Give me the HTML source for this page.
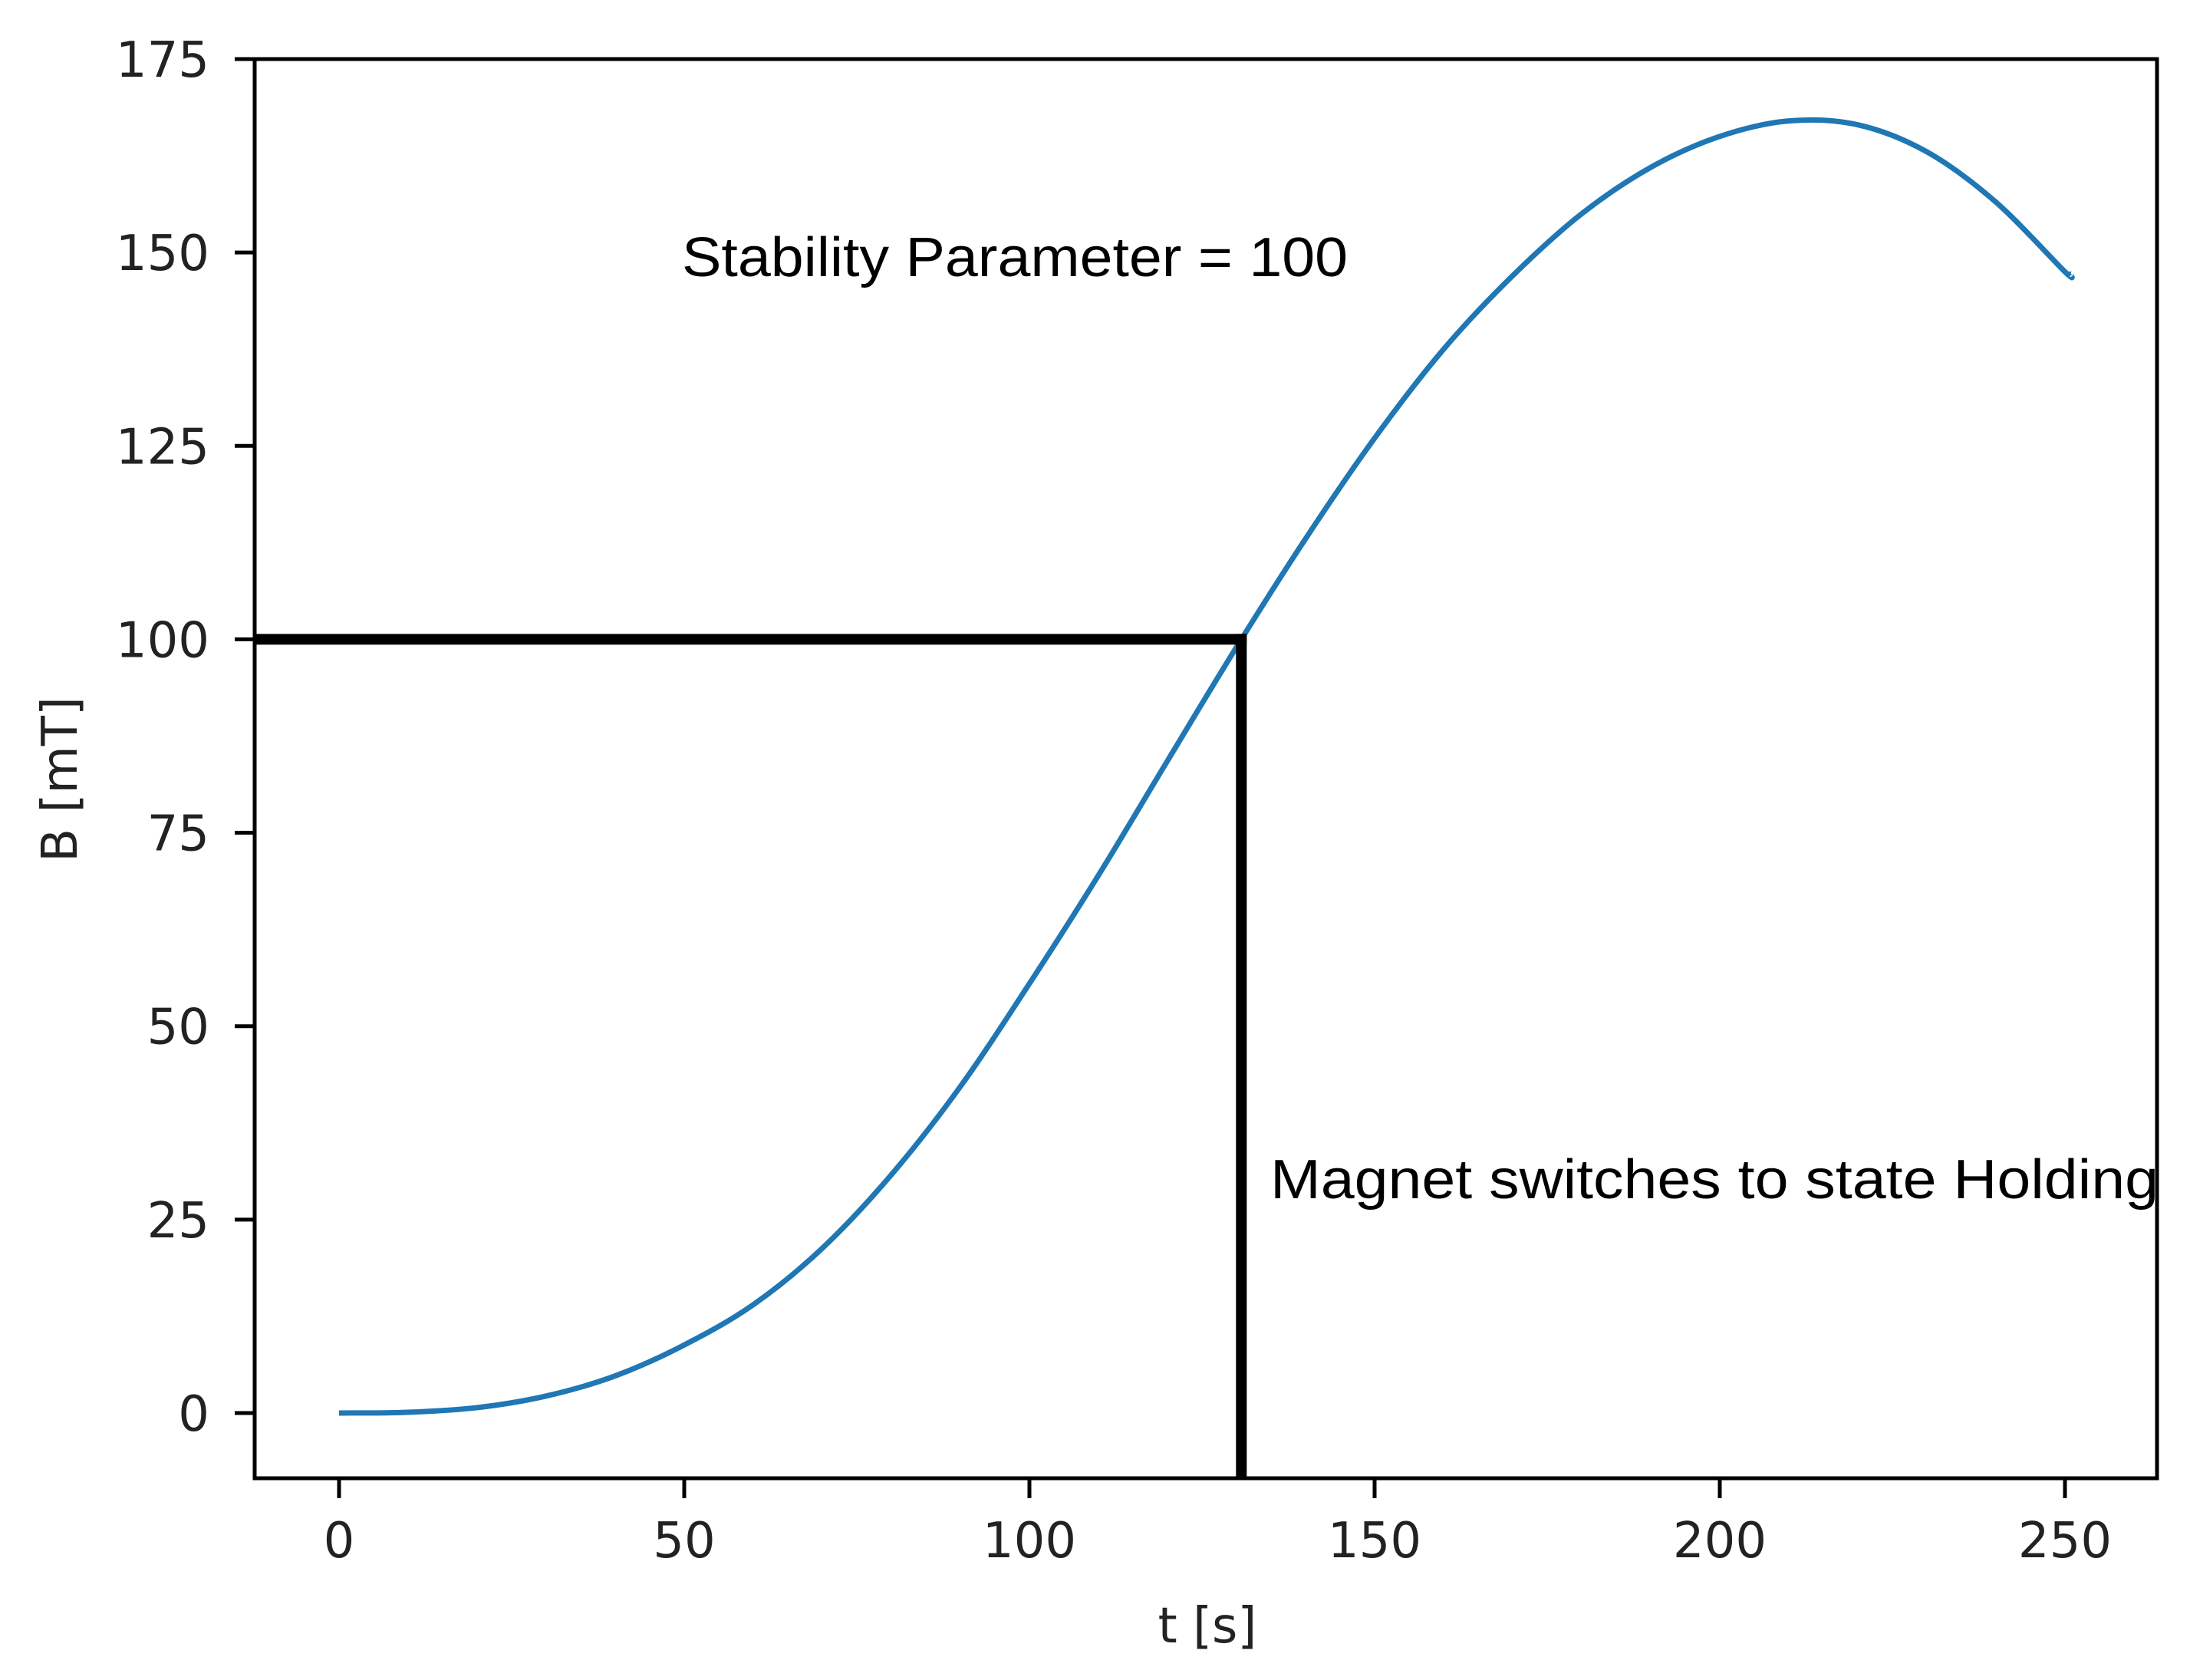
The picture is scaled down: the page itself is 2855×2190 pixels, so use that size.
<!DOCTYPE html>
<html><head><meta charset="utf-8"><style>
html,body{margin:0;padding:0;background:#fff;}
svg{display:block;}
</style></head><body>
<svg id="chart" width="2855" height="2190" viewBox="0 0 2855 2190" xmlns="http://www.w3.org/2000/svg">
<rect x="0" y="0" width="2855" height="2190" fill="#fff"/>
<g id="ticks"></g>
<g id="marks"></g>
<rect x="332" y="77" width="2480" height="1850" fill="none" stroke="#000" stroke-width="5"/>
<text x="1574" y="2141" font-family="DejaVu Sans, sans-serif" font-size="64" text-anchor="middle" fill="#222">t [s]</text>
<text transform="translate(100,1016) rotate(-90)" font-family="DejaVu Sans, sans-serif" font-size="64" text-anchor="middle" fill="#222">B [mT]</text>
<text x="889" y="360" font-family="Liberation Sans, sans-serif" font-size="72" textLength="868" lengthAdjust="spacingAndGlyphs" fill="#000">Stability Parameter = 100</text>
<text x="1656" y="1562" font-family="Liberation Sans, sans-serif" font-size="72" textLength="1158" lengthAdjust="spacingAndGlyphs" fill="#000">Magnet switches to state Holding</text>
</svg>
<script>
const tValues = [0,10,20,30,40,50,60,70,80,90,100,110,120,130,140,150,160,170,180,190,200,210,220,230,240,250];
const bValues = [0,0.1,0.7,2.2,4.8,8.8,14,21.3,30.8,42.2,55.5,69.5,84.3,99,113,126,137.5,147,155,161,165,167,166.5,163,156.5,147.5];
const endPoint = [250.8, 147.2];
const xTicks = [0,50,100,150,200,250];
const yTicks = [0,25,50,75,100,125,150,175];
const switchT = 130.7;
const switchB = 100;

const NS = 'http://www.w3.org/2000/svg';
function xs(v){ return 442 + v * 9.0; }
function ys(v){ return 1842 - v * 10.086; }
const ticksG = document.getElementById('ticks');
const marksG = document.getElementById('marks');
function mk(tag, attrs, parent){
  const el = document.createElementNS(NS, tag);
  for (const k in attrs) el.setAttribute(k, attrs[k]);
  parent.appendChild(el);
  return el;
}
xTicks.forEach(v => {
  const l = mk('line', {x1: xs(v), x2: xs(v), y1: 1927, y2: 1953, stroke: '#000', 'stroke-width': 5}, ticksG);
  
  
  const t = mk('text', {x: xs(v), y: 2030, 'font-family': 'DejaVu Sans, sans-serif', 'font-size': 64, 'text-anchor': 'middle', fill: '#222'}, ticksG);
  t.textContent = v;
  
  
});
yTicks.forEach(v => {
  const l = mk('line', {x1: 306, x2: 332, y1: ys(v), y2: ys(v), stroke: '#000', 'stroke-width': 5}, ticksG);
  
  
  const t = mk('text', {x: 273, y: ys(v) + 23, 'font-family': 'DejaVu Sans, sans-serif', 'font-size': 64, 'text-anchor': 'end', fill: '#222'}, ticksG);
  t.textContent = v;
  
  
});
const pts = tValues.map((t,i) => [xs(t), ys(bValues[i])]);
pts.push([xs(endPoint[0]), ys(endPoint[1])]);
let d = 'M' + pts[0][0] + ',' + pts[0][1];
for (let i = 0; i < pts.length - 1; i++) {
  const p0 = pts[Math.max(0,i-1)], p1 = pts[i], p2 = pts[i+1], p3 = pts[Math.min(pts.length-1,i+2)];
  const c1x = p1[0] + (p2[0]-p0[0])/6, c1y = p1[1] + (p2[1]-p0[1])/6;
  const c2x = p2[0] - (p3[0]-p1[0])/6, c2y = p2[1] - (p3[1]-p1[1])/6;
  d += ' C' + c1x + ',' + c1y + ' ' + c2x + ',' + c2y + ' ' + p2[0] + ',' + p2[1];
}
const curve = mk('path', {d: d, fill: 'none', stroke: '#1f77b4', 'stroke-width': 7}, marksG);


const hl = mk('line', {x1: 332, x2: xs(switchT) + 7, y1: ys(switchB), y2: ys(switchB), stroke: '#000', 'stroke-width': 14}, marksG);


const vl = mk('line', {x1: xs(switchT), x2: xs(switchT), y1: ys(switchB) - 7, y2: 1927, stroke: '#000', 'stroke-width': 14}, marksG);


</script>
</body></html>
